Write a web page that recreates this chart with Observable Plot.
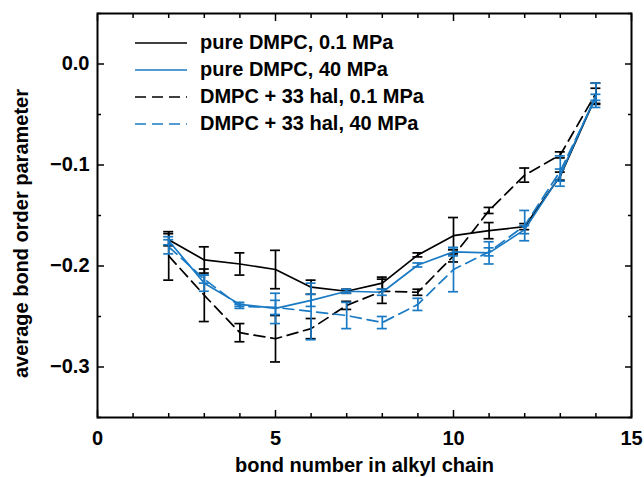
<!DOCTYPE html>
<html><head><meta charset="utf-8">
<script src="https://cdn.jsdelivr.net/npm/d3@7"></script>
<script src="https://cdn.jsdelivr.net/npm/@observablehq/plot@0.6"></script>
<style>
body{margin:0;background:#fff;}
#wrap{position:relative;width:644px;height:477px;font-family:"Liberation Sans",Arial,Helvetica,sans-serif;}
#legend{position:absolute;left:135px;top:29px;font-weight:bold;font-size:20px;color:#000;}
.row{display:flex;align-items:center;height:27px;white-space:nowrap;}
.row svg{margin-right:13px;display:block;}
</style></head><body>
<div id="wrap"><div id="chart"></div><div id="legend"></div></div>
<script>
// ---- data ----
const bonds = [2,3,4,5,6,7,8,9,10,11,12,13,14];
const pure01    = [-0.174,-0.194,-0.198,-0.2035,-0.221,-0.225,-0.217,-0.189,-0.170,-0.165,-0.161,-0.111,-0.032];
const pure01Err = [0.006,0.013,0.011,0.019,0.007,0.002,0.006,0.002,0.018,0.008,0.003,0.004,0.008];
const pure40    = [-0.175,-0.217,-0.238,-0.242,-0.234,-0.225,-0.226,-0.199,-0.186,-0.187,-0.164,-0.110,-0.031];
const pure40Err = [0.004,0.008,0.002,0.015,0.006,0.002,0.003,0.002,0.004,0.011,0.004,0.006,0.012];
const hal01     = [-0.190,-0.229,-0.266,-0.272,-0.262,-0.239,-0.225,-0.226,-0.190,-0.145,-0.110,-0.090,-0.029];
const hal01Err  = [0.024,0.026,0.009,0.023,0.010,0.004,0.012,0.003,0.006,0.003,0.007,0.003,0.010];
const hal40     = [-0.181,-0.213,-0.240,-0.241,-0.245,-0.249,-0.256,-0.238,-0.2035,-0.186,-0.160,-0.106,-0.033];
const hal40Err  = [0.007,0.004,0.002,0.007,0.028,0.013,0.006,0.006,0.022,0.004,0.015,0.015,0.003];
const seriesNames = ["pure DMPC, 0.1 MPa","pure DMPC, 40 MPa","DMPC + 33 hal, 0.1 MPa","DMPC + 33 hal, 40 MPa"];
const xMajor = [0,5,10,15];
const xMinor = [1,2,3,4,6,7,8,9,11,12,13,14];
const yMajor = [-0.3,-0.2,-0.1,0];
const yMinor = [-0.35,-0.25,-0.15,-0.05,0.05];
const xLabel = "bond number in alkyl chain";
const yLabel = "average bond order parameter";

// ---- styles ----
const blue = "#1a7ac4";
const dash = "11,6";
const series = [
  {name: seriesNames[0], v: pure01, e: pure01Err, color: "#000", dash: null},
  {name: seriesNames[2], v: hal01, e: hal01Err, color: "#000", dash: dash},
  {name: seriesNames[1], v: pure40, e: pure40Err, color: blue, dash: null},
  {name: seriesNames[3], v: hal40, e: hal40Err, color: blue, dash: dash}
];
const sw = 1.7;
const marks = [];
for (const s of series) {
  const data = bonds.map((b, i) => ({bond: b, v: s.v[i], lo: s.v[i] - s.e[i], hi: s.v[i] + s.e[i]}));
  marks.push(Plot.ruleX(data, {x: "bond", y1: "lo", y2: "hi", stroke: s.color, strokeWidth: sw}));
  marks.push(Plot.ruleY(data, {y: "lo", x1: "bond", x2: "bond", insetLeft: -5, insetRight: -5, stroke: s.color, strokeWidth: sw}));
  marks.push(Plot.ruleY(data, {y: "hi", x1: "bond", x2: "bond", insetLeft: -5, insetRight: -5, stroke: s.color, strokeWidth: sw}));
  marks.push(Plot.line(data, {x: "bond", y: "v", stroke: s.color, strokeWidth: sw, strokeDasharray: s.dash}));
}
const fmtY = d => d3.format(".1f")(d);
const none = () => "";
const chart = Plot.plot({
  width: 644, height: 477,
  marginLeft: 97, marginRight: 13, marginTop: 13, marginBottom: 60,
  style: {fontFamily: '"Liberation Sans", Arial, Helvetica, sans-serif', fontSize: "20px", fontWeight: "bold", color: "#000", background: "#fff"},
  x: {domain: [0, 15]},
  y: {domain: [-0.35, 0.05]},
  marks: [
    ...marks,
    Plot.axisX({anchor: "bottom", ticks: xMajor, tickSize: -7, tickPadding: 20, tickFormat: "d", label: null, strokeWidth: 1.5}),
    Plot.axisX({anchor: "bottom", ticks: xMinor, tickSize: -4, tickFormat: none, label: null, strokeWidth: 1.5}),
    Plot.axisX({anchor: "top", ticks: xMajor, tickSize: -7, tickFormat: none, label: null, strokeWidth: 1.5}),
    Plot.axisX({anchor: "top", ticks: xMinor, tickSize: -4, tickFormat: none, label: null, strokeWidth: 1.5}),
    Plot.axisY({anchor: "left", ticks: yMajor, tickSize: -7, tickPadding: 15, tickFormat: fmtY, label: null, strokeWidth: 1.5}),
    Plot.axisY({anchor: "left", ticks: yMinor, tickSize: -4, tickFormat: none, label: null, strokeWidth: 1.5}),
    Plot.axisY({anchor: "right", ticks: yMajor, tickSize: -7, tickFormat: none, label: null, strokeWidth: 1.5}),
    Plot.axisY({anchor: "right", ticks: yMinor, tickSize: -4, tickFormat: none, label: null, strokeWidth: 1.5}),
    Plot.frame({stroke: "#000", strokeWidth: 2}),
    Plot.text([xLabel], {text: d => d, frameAnchor: "bottom", dy: 48, lineAnchor: "middle", textAnchor: "middle", fontSize: 20, fontWeight: "bold"}),
    Plot.text([yLabel], {text: d => d, frameAnchor: "left", rotate: -90, dx: -76, dy: 18, lineAnchor: "middle", textAnchor: "middle", fontSize: 20, fontWeight: "bold"})
  ]
});
document.getElementById("chart").appendChild(chart);

// ---- legend ----
const legendOrder = [series[0], series[2], series[1], series[3]];
const leg = document.getElementById("legend");
for (const s of legendOrder) {
  const row = document.createElement("div");
  row.className = "row";
  row.innerHTML = `<svg width="52" height="4"><line x1="0" y1="2" x2="52" y2="2" stroke="${s.color}" stroke-width="${sw}" ${s.dash ? `stroke-dasharray="${s.dash}"` : ""}/></svg><span>${s.name}</span>`;
  leg.appendChild(row);
}
</script>
</body></html>
